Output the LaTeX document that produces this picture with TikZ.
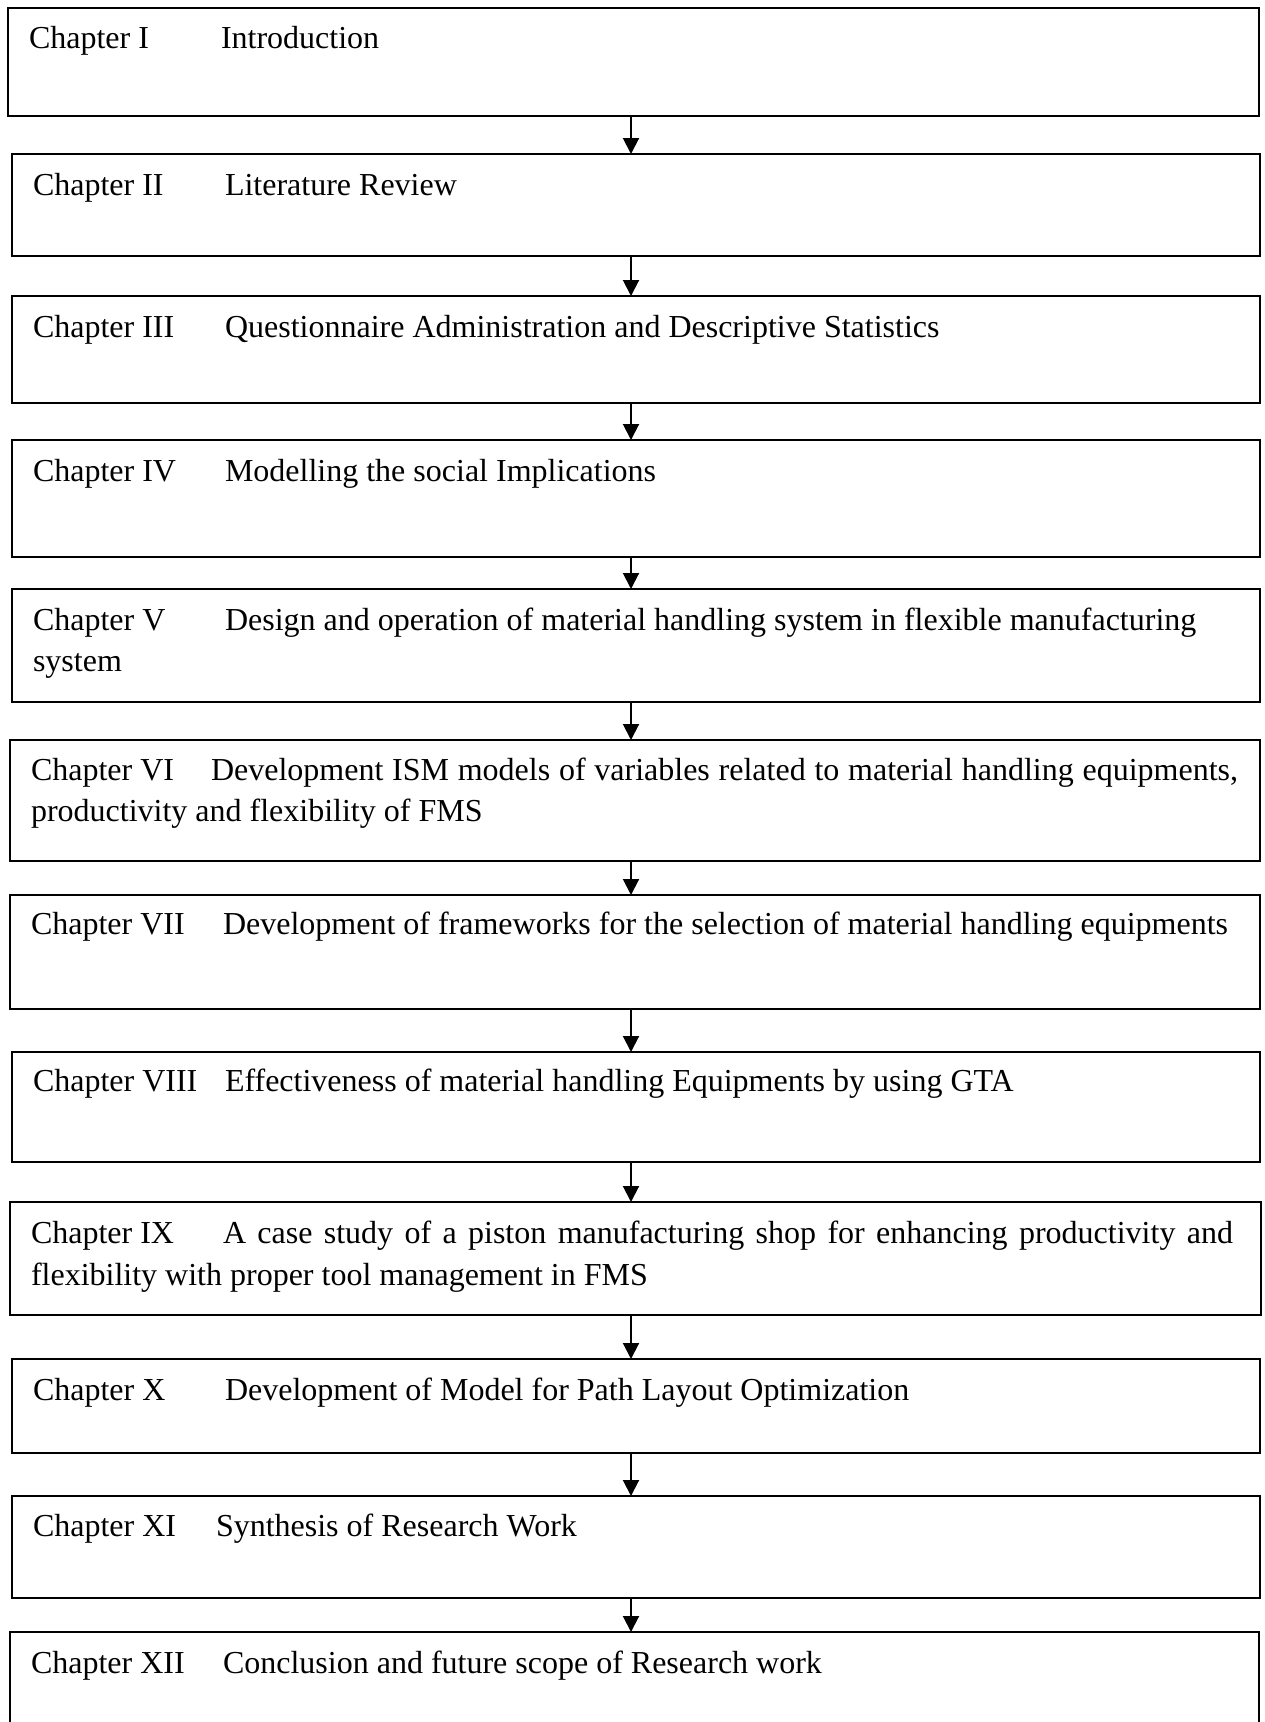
\documentclass[tikz,border=0pt]{standalone}
\usepackage{fontspec}
\setmainfont{Liberation Serif}
\usetikzlibrary{arrows.meta}

\tikzset{
  chapbox/.style={draw=black, line width=1.8pt, inner sep=0pt, outer sep=0pt, anchor=north west},
  txt/.style={anchor=base west, inner sep=0pt, outer sep=0pt, font=\fontsize{32}{41}\selectfont},
  flow/.style={line width=2pt, -{Triangle[width=16pt,length=16pt]}}
}

% place a chapter box from its left, top, right and bottom edges
\newcommand{\chapframe}[5]{%
  \node[chapbox, minimum width=#4pt-#2pt, minimum height=#5pt-#3pt] (#1) at (#2,#3) {};}

\begin{document}
\begin{tikzpicture}[x=1pt, y=-1pt]
  \clip (0,0) rectangle (1265,1722);
  \fill[white] (0,0) rectangle (1265,1722);

  \chapframe{c1}{8}{8}{1259}{116}
  \chapframe{c2}{12}{154}{1260}{256}
  \chapframe{c3}{12}{296}{1260}{403}
  \chapframe{c4}{12}{440}{1260}{557}
  \chapframe{c5}{12}{589}{1260}{702}
  \chapframe{c6}{10}{740}{1260}{861}
  \chapframe{c7}{10}{895}{1260}{1009}
  \chapframe{c8}{12}{1052}{1260}{1162}
  \chapframe{c9}{10}{1202}{1261}{1315}
  \chapframe{c10}{12}{1359}{1260}{1453}
  \chapframe{c11}{12}{1496}{1260}{1598}
  \chapframe{c12}{10}{1632}{1259}{1770}

  % chapter numbers and titles
  \node[txt] (l1) at (29,48) {Chapter I};
  \node[txt] (t1) at (221,48) {Introduction};
  \node[txt] (l2) at (33,195) {Chapter II};
  \node[txt] (t2) at (225,195) {Literature Review};
  \node[txt] (l3) at (33,337) {Chapter III};
  \node[txt] (t3) at (225,337) {Questionnaire Administration and Descriptive Statistics};
  \node[txt] (l4) at (33,481) {Chapter IV};
  \node[txt] (t4) at (225,481) {Modelling the social Implications};
  \node[txt] (l5) at (33,630) {Chapter V};
  \node[txt] (t5) at (225,630) {Design and operation of material handling system in flexible manufacturing};
  \node[txt] (u5) at (33,671) {system};
  \node[txt] (l6) at (31,780) {Chapter VI};
  \node[txt] (t6) at (211,780) {\makebox[1027pt][s]{Development ISM models of variables related to material handling equipments,}};
  \node[txt] (u6) at (31,821) {productivity and flexibility of FMS};
  \node[txt] (l7) at (31,934) {Chapter VII};
  \node[txt] (t7) at (223,934) {Development of frameworks for the selection of material handling equipments};
  \node[txt] (l8) at (33,1091) {Chapter VIII};
  \node[txt] (t8) at (225,1091) {Effectiveness of material handling Equipments by using GTA};
  \node[txt] (l9) at (31,1243) {Chapter IX};
  \node[txt] (t9) at (223,1243) {\makebox[1010pt][s]{A case study of a piston manufacturing shop for enhancing productivity and}};
  \node[txt] (u9) at (31,1285) {flexibility with proper tool management in FMS};
  \node[txt] (l10) at (33,1400) {Chapter X};
  \node[txt] (t10) at (225,1400) {Development of Model for Path Layout Optimization};
  \node[txt] (l11) at (33,1536) {Chapter XI};
  \node[txt] (t11) at (216,1536) {Synthesis of Research Work};
  \node[txt] (l12) at (31,1673) {Chapter XII};
  \node[txt] (t12) at (223,1673) {Conclusion and future scope of Research work};

  % connectors between consecutive chapters
  \coordinate (axis) at (631,0);
  \foreach \a/\b in {c1/c2,c2/c3,c3/c4,c4/c5,c5/c6,c6/c7,c7/c8,c8/c9,c9/c10,c10/c11,c11/c12}
    \draw[flow] (\a.south -| axis) -- (\b.north -| axis);
\end{tikzpicture}
\end{document}
